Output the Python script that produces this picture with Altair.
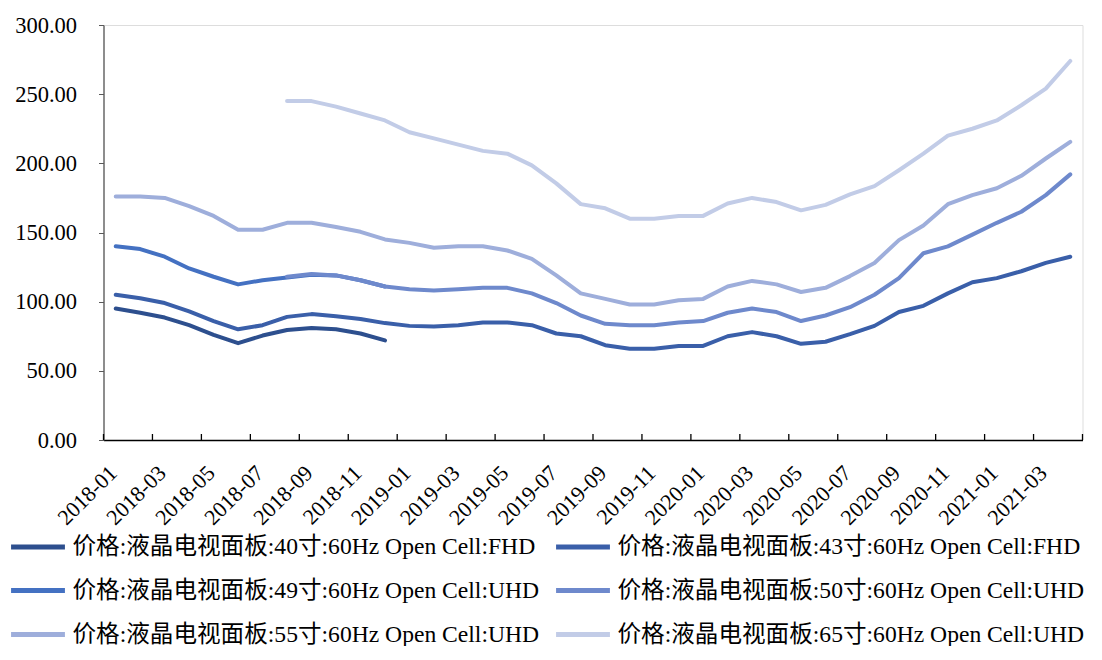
import altair as alt
import pandas as pd

months = [
    "2018-01", "2018-02", "2018-03", "2018-04", "2018-05", "2018-06", "2018-07", "2018-08",
    "2018-09", "2018-10", "2018-11", "2018-12", "2019-01", "2019-02", "2019-03", "2019-04",
    "2019-05", "2019-06", "2019-07", "2019-08", "2019-09", "2019-10", "2019-11", "2019-12",
    "2020-01", "2020-02", "2020-03", "2020-04", "2020-05", "2020-06", "2020-07", "2020-08",
    "2020-09", "2020-10", "2020-11", "2020-12", "2021-01", "2021-02", "2021-03", "2021-04",
]
label_months = months[::2]

series_names = [
    "价格:液晶电视面板:40寸:60Hz Open Cell:FHD",
    "价格:液晶电视面板:43寸:60Hz Open Cell:FHD",
    "价格:液晶电视面板:49寸:60Hz Open Cell:UHD",
    "价格:液晶电视面板:50寸:60Hz Open Cell:UHD",
    "价格:液晶电视面板:55寸:60Hz Open Cell:UHD",
    "价格:液晶电视面板:65寸:60Hz Open Cell:UHD",
]
series_colors = ["#2D4F8E", "#3A5FA9", "#4471C2", "#6E89CC", "#9EAEDB", "#C2CCE7"]

s40 = [95, 92, 88.5, 83, 76, 70, 75.5, 79.5, 81, 80, 77, 72] + [None] * 28
s43 = [105, 102.5, 99, 93, 86, 80, 83, 89, 91, 89.5, 87.5, 84.5, 82.5, 82, 83, 85,
       85, 83, 77, 75, 68.5, 66, 66, 68, 68, 75, 78, 75, 69.5, 71, 76.5, 82.5,
       92.5, 97, 106, 114, 117, 122, 128, 132.5]
s49 = [140, 138, 132.5, 124, 118, 112.5, 115.5, 117.5, 119.5, 119, 115.5, 111] + [None] * 28
s50 = [None] * 7 + [118, 120, 119, 115.5, 111, 109, 108, 109, 110, 110, 106, 99, 90, 84,
                    83, 83, 85, 86, 92, 95, 92.5, 86, 90, 96, 105, 117, 135, 140, 148.5,
                    157, 165, 177, 192]
s55 = [176, 176, 175, 169, 162, 152, 152, 157, 157, 154, 150.5, 145, 142.5, 139, 140, 140,
       137, 131, 119, 106, 102, 98, 98, 101, 102, 111, 115, 112.5, 107, 110, 118.5, 128,
       144.5, 155, 170.5, 177, 182, 191, 203.5, 215.5]
s65 = [None] * 7 + [245, 245, 241, 236, 231, 222.5, 218, 213.5, 209, 207, 198.5, 185.5,
                    170.5, 167.5, 160, 160, 162, 162, 171, 175, 172, 166, 170, 177.5,
                    183.5, 195, 207, 220, 225, 231, 242, 254, 274]

y_ticks = [0, 50, 100, 150, 200, 250, 300]

all_series = [s40, s43, s49, s50, s55, s65]
rows = []
for k, (name, vals) in enumerate(zip(series_names, all_series)):
    for i, v in enumerate(vals):
        if v is not None:
            rows.append({"series": name, "s": k, "month": months[i], "value": v})
df = pd.DataFrame(rows)

# category boundaries (every second month) for the inward tick marks
tick_df = pd.DataFrame({"pos": [i - 0.5 for i in range(0, len(months) + 1, 2)]})

SERIF = "Liberation Serif, Times New Roman, Noto Sans CJK SC"
W, H = 979, 415

lines = alt.Chart(df).mark_line(strokeWidth=4, strokeCap="round", strokeJoin="round").encode(
    x=alt.X(
        "month:O",
        sort=months,
        scale=alt.Scale(type="point", domain=months, padding=0.5),
        title=None,
        axis=alt.Axis(
            values=label_months,
            labelAngle=-45,
            labelAlign="right",
            labelBaseline="top",
            labelPadding=22,
            labelOffset=-10,
            labelFontSize=22,
            labelFont=SERIF,
            labelColor="#000000",
            ticks=False,
            grid=False,
            domainColor="#000000",
            domainWidth=1.3,
            labelOverlap=False,
            labelFlush=False,
        ),
    ),
    y=alt.Y(
        "value:Q",
        scale=alt.Scale(domain=[0, 300], nice=False),
        title=None,
        axis=alt.Axis(
            values=y_ticks,
            format=".2f",
            labelFontSize=22.5,
            labelFont=SERIF,
            labelColor="#000000",
            labelPadding=22,
            tickSize=5,
            tickColor="#595959",
            domainColor="#595959",
            domainWidth=1.3,
            grid=False,
        ),
    ),
    color=alt.Color(
        "series:N",
        scale=alt.Scale(domain=series_names, range=series_colors),
        legend=alt.Legend(
            title=None,
            orient="none",
            legendX=-95,
            legendY=492,
            columns=2,
            direction="horizontal",
            symbolType="stroke",
            symbolSize=2900,
            symbolStrokeWidth=5,
            labelFont=SERIF,
            labelFontSize=23.6,
            labelColor="#000000",
            labelLimit=2000,
            labelOffset=5,
            rowPadding=2,
            columnPadding=6,
            padding=0,
        ),
    ),
    detail="s:N",
)

ticks = alt.Chart(tick_df).mark_rule(color="#000000", strokeWidth=1.3).encode(
    x=alt.X("pos:Q", scale=alt.Scale(domain=[-0.5, len(months) - 0.5], nice=False, zero=False), axis=None),
    y=alt.value(H),
    y2=alt.value(H - 6),
)

chart = (
    alt.layer(lines, ticks)
    .resolve_scale(x="independent")
    .properties(
        width=W,
        height=H,
        autosize="none",
        padding={"left": 95.5, "top": 17, "right": 10.5, "bottom": 206},
    )
    .configure_view(stroke=None)
    .configure(font=SERIF)
)

chart.save("out.html", embed_options={"renderer": "svg", "actions": False})
